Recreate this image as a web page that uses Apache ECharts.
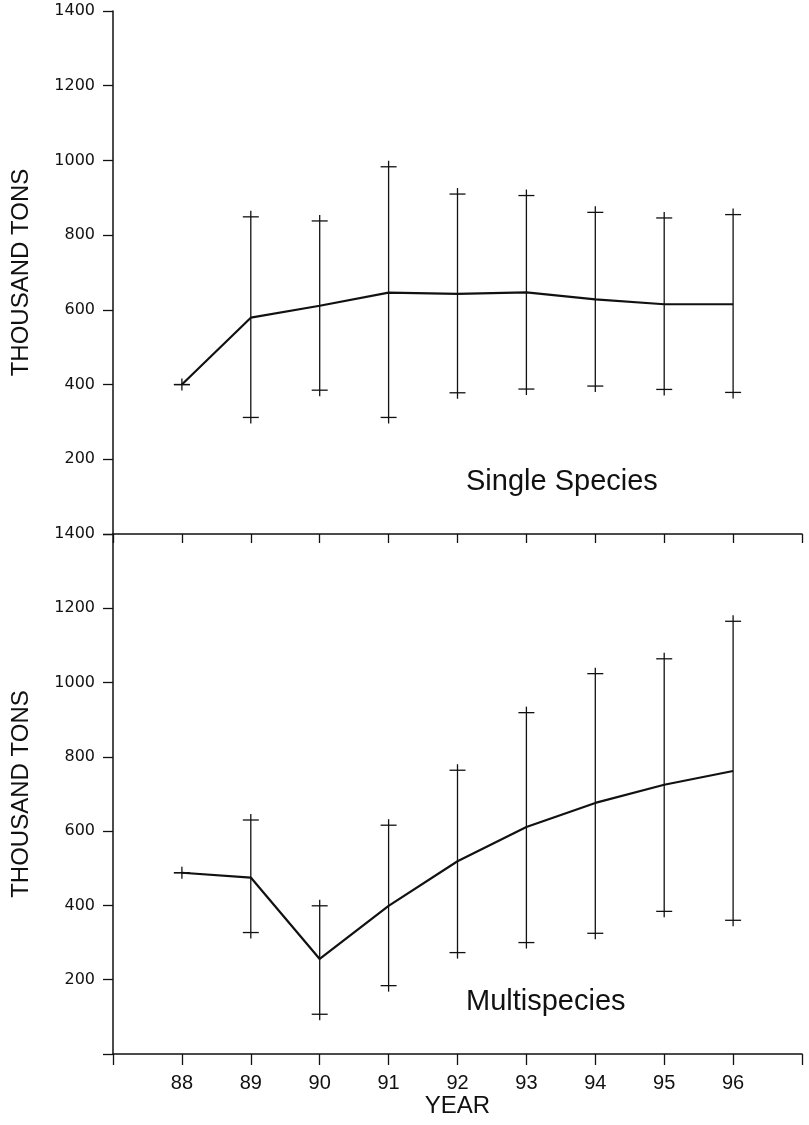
<!DOCTYPE html>
<html>
<head>
<meta charset="utf-8">
<script src="https://cdn.jsdelivr.net/npm/echarts@6/dist/echarts.min.js"></script>
<style>
  html, body { margin: 0; padding: 0; background: #fff; }
  #chart { width: 809px; height: 1125px; }
</style>
</head>
<body>
<div id="chart"></div>
<script>
// ---- data ----
const years = [88, 89, 90, 91, 92, 93, 94, 95, 96];
const yTicks = [0, 200, 400, 600, 800, 1000, 1200, 1400];

const singleMean = [400, 579, 611, 646, 643, 647, 628, 615, 615];
const singleHigh = [400, 849, 838, 983, 910, 906, 861, 846, 855];
const singleLow  = [400, 312, 385, 312, 378, 388, 396, 387, 379];

const multiMean = [488, 475, 256, 399, 519, 611, 676, 725, 762];
const multiHigh = [488, 630, 399, 616, 764, 919, 1024, 1064, 1165];
const multiLow  = [488, 327, 107, 184, 273, 300, 325, 384, 360];

const panelLabels = ['Single Species', 'Multispecies'];
const yName = 'THOUSAND TONS';
const xName = 'YEAR';

// ---- build ----
const INK = '#111';
function meanData(m) { return years.map((y, i) => [y, m[i]]); }
function errData(lo, hi) { return years.map((y, i) => [y, lo[i], hi[i]]); }

function errRender(params, api) {
  const x = api.value(0), lo = api.value(1), hi = api.value(2);
  const pH = api.coord([x, hi]);
  const pL = api.coord([x, lo]);
  const st = { stroke: INK, lineWidth: 1.3 };
  const over = 6, cap = 8;
  return {
    type: 'group',
    children: [
      { type: 'line', shape: { x1: pH[0], y1: pH[1] - over, x2: pL[0], y2: pL[1] + over }, style: st },
      { type: 'line', shape: { x1: pH[0] - cap, y1: pH[1], x2: pH[0] + cap, y2: pH[1] }, style: st },
      { type: 'line', shape: { x1: pL[0] - cap, y1: pL[1], x2: pL[0] + cap, y2: pL[1] }, style: st }
    ]
  };
}

const axisLine = { show: true, onZero: false, lineStyle: { color: INK, width: 1.5 } };

function makeY(gridIndex, hideZero) {
  return {
    type: 'value', gridIndex: gridIndex,
    min: yTicks[0], max: yTicks[yTicks.length - 1], interval: 200,
    name: yName, nameLocation: 'middle', nameRotate: 90, nameGap: 80,
    nameTextStyle: { fontFamily: 'Liberation Sans', fontSize: 24, color: INK },
    axisLine: axisLine,
    axisTick: { show: true, length: 10, lineStyle: { color: INK, width: 1.3 } },
    axisLabel: {
      margin: 18, fontFamily: 'DejaVu Sans', fontSize: 16, color: INK,
      formatter: v => (v === 0 && hideZero) ? '' : String(v)
    },
    splitLine: { show: false }
  };
}

function makeX(gridIndex, showLabels) {
  return {
    type: 'value', gridIndex: gridIndex,
    min: 87, max: 97, interval: 1,
    name: showLabels ? xName : '', nameLocation: 'middle', nameGap: 40,
    nameTextStyle: { fontFamily: 'Liberation Sans', fontSize: 24, color: INK },
    axisLine: axisLine,
    axisTick: { show: true, length: showLabels ? 11 : 9, lineStyle: { color: INK, width: 1.3 } },
    axisLabel: {
      show: showLabels, margin: 19, fontFamily: 'Liberation Sans', fontSize: 20, color: INK,
      formatter: v => (v >= years[0] && v <= years[years.length - 1]) ? String(v) : ''
    },
    splitLine: { show: false }
  };
}

const option = {
  animation: false,
  backgroundColor: '#fff',
  grid: [
    { left: 113, right: 7, top: 11, height: 523 },
    { left: 113, right: 7, top: 534, height: 520 }
  ],
  xAxis: [makeX(0, false), makeX(1, true)],
  yAxis: [makeY(0, true), makeY(1, true)],
  series: [
    { type: 'line', xAxisIndex: 0, yAxisIndex: 0, data: meanData(singleMean), symbol: 'none',
      lineStyle: { color: INK, width: 2.2 }, z: 3 },
    { type: 'custom', xAxisIndex: 0, yAxisIndex: 0, data: errData(singleLow, singleHigh),
      renderItem: errRender, encode: { x: 0, y: [1, 2] }, z: 2 },
    { type: 'line', xAxisIndex: 1, yAxisIndex: 1, data: meanData(multiMean), symbol: 'none',
      lineStyle: { color: INK, width: 2.2 }, z: 3 },
    { type: 'custom', xAxisIndex: 1, yAxisIndex: 1, data: errData(multiLow, multiHigh),
      renderItem: errRender, encode: { x: 0, y: [1, 2] }, z: 2 }
  ],
  graphic: [
    { type: 'text', left: 466, top: 467,
      style: { text: panelLabels[0], fontFamily: 'Liberation Sans', fontSize: 29, fill: INK } },
    { type: 'text', left: 466, top: 987,
      style: { text: panelLabels[1], fontFamily: 'Liberation Sans', fontSize: 29, fill: INK } }
  ]
};

const chart = echarts.init(document.getElementById('chart'), null, { renderer: 'canvas' });
chart.setOption(option);
</script>
</body>
</html>
